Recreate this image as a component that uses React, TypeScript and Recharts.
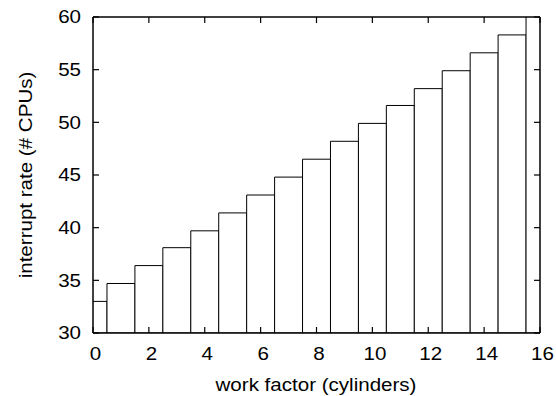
import React from "react";
import { BarChart, Bar, XAxis, YAxis, Label } from "recharts";

// work factor (cylinders) and measured interrupt rate
const workFactor = [0, 1, 2, 3, 4, 5, 6, 7, 8, 9, 10, 11, 12, 13, 14, 15, 16];
const interruptRate = [33.0, 34.7, 36.4, 38.1, 39.7, 41.4, 43.1, 44.8, 46.5, 48.2, 49.9, 51.6, 53.2, 54.9, 56.6, 58.3, 60.1];
const xTicks = [0, 2, 4, 6, 8, 10, 12, 14, 16];
const yTicks = [30, 35, 40, 45, 50, 55, 60];

const data = workFactor.map((x, i) => ({ x, rate: interruptRate[i] }));

const FONT = "'Liberation Sans', Arial, Helvetica, sans-serif";
const SIZE = 17.5;
const STRETCH = 1.175;
const TICK = 6;

function BottomTick({ x, y, payload }: any) {
  return (
    <g>
      <line x1={x} y1={y} x2={x} y2={y - TICK} stroke="#000" strokeWidth={1.2} />
      <text transform={`translate(${x + 2.5},${y + 27}) scale(${STRETCH},1)`} textAnchor="middle" fontFamily={FONT} fontSize={SIZE} fill="#000">
        {payload.value}
      </text>
    </g>
  );
}

function TopTick({ x, y }: any) {
  return <line x1={x} y1={y} x2={x} y2={y + TICK} stroke="#000" strokeWidth={1.2} />;
}

function LeftTick({ x, y, payload }: any) {
  return (
    <g>
      <line x1={x} y1={y} x2={x + TICK} y2={y} stroke="#000" strokeWidth={1.2} />
      <text transform={`translate(${x - 12},${y + 6.3}) scale(${STRETCH},1)`} textAnchor="end" fontFamily={FONT} fontSize={SIZE} fill="#000">
        {payload.value}
      </text>
    </g>
  );
}

function RightTick({ x, y }: any) {
  return <line x1={x} y1={y} x2={x - TICK} y2={y} stroke="#000" strokeWidth={1.2} />;
}

const axisLine = { stroke: "#000", strokeWidth: 1.5 };

export default function App(): JSX.Element {
  return (
    <div style={{ position: "absolute", left: 0, top: 0, width: 556, height: 396, background: "#fff" }}>
      <BarChart width={556} height={396} data={data} margin={{ top: 16, right: 0, left: 0, bottom: 0 }} barCategoryGap={0} barGap={0}>
        <XAxis
          dataKey="x"
          type="number"
          domain={[0, 16]}
          ticks={xTicks}
          interval={0}
          allowDataOverflow
          height={63}
          tickSize={0}
          tickMargin={0}
          tickLine={false}
          axisLine={axisLine}
          tick={<BottomTick />}
        >
          <Label
            content={() => (
              <text transform={`translate(316,391) scale(${STRETCH},1)`} textAnchor="middle" fontFamily={FONT} fontSize={SIZE} fill="#000">
                work factor (cylinders)
              </text>
            )}
          />
        </XAxis>
        <XAxis
          xAxisId="top"
          orientation="top"
          type="number"
          domain={[0, 16]}
          ticks={xTicks}
          interval={0}
          allowDataOverflow
          height={1}
          tickSize={0}
          tickMargin={0}
          tickLine={false}
          axisLine={axisLine}
          tick={<TopTick />}
        />
        <YAxis
          type="number"
          domain={[30, 60]}
          ticks={yTicks}
          interval={0}
          allowDataOverflow
          width={93}
          tickSize={0}
          tickMargin={0}
          tickLine={false}
          axisLine={axisLine}
          tick={<LeftTick />}
        >
          <Label
            content={() => (
              <text transform={`translate(31.5,175) rotate(-90) scale(${STRETCH},1)`} textAnchor="middle" fontFamily={FONT} fontSize={SIZE} fill="#000">
                interrupt rate (# CPUs)
              </text>
            )}
          />
        </YAxis>
        <YAxis
          yAxisId="right"
          orientation="right"
          type="number"
          domain={[30, 60]}
          ticks={yTicks}
          interval={0}
          allowDataOverflow
          width={16}
          tickSize={0}
          tickMargin={0}
          tickLine={false}
          axisLine={axisLine}
          tick={<RightTick />}
        />
        <Bar dataKey="rate" fill="#fff" stroke="#000" strokeWidth={1} isAnimationActive={false} />
      </BarChart>
    </div>
  );
}
